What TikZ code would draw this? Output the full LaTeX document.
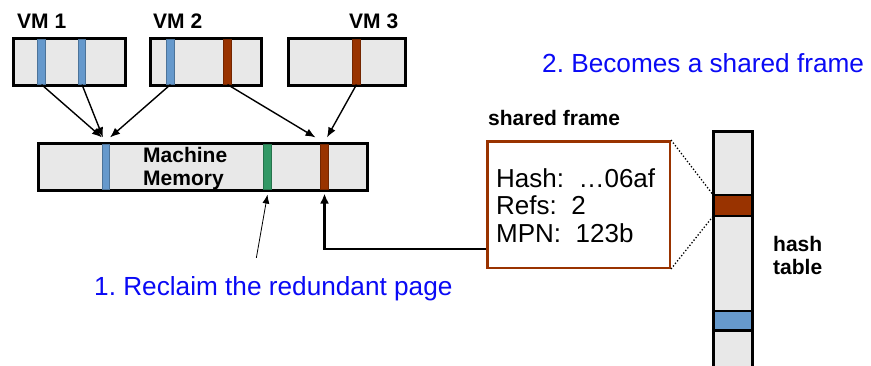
\documentclass[tikz,border=0pt]{standalone}
\usepackage{fontspec}
\setmainfont{Liberation Sans}
\usetikzlibrary{arrows.meta,calc}

\definecolor{pageblue}{HTML}{6699CC}
\definecolor{pagered}{HTML}{993300}
\definecolor{pagegreen}{HTML}{339966}
\definecolor{boxgray}{HTML}{E8E8E8}
\definecolor{noteblue}{HTML}{0A0AF5}

\tikzset{
  membox/.style={draw=black, line width=3pt, fill=boxgray, minimum height=47pt, inner sep=0pt},
  stripe/.style={inner sep=0pt, minimum width=7.5pt, minimum height=44.5pt,
                 draw=#1!75!black, line width=0.6pt, fill=#1},
  boldlbl/.style={font=\fontsize{21}{23}\selectfont\bfseries, inner sep=0pt},
  note/.style={font=\fontsize{26.2}{28}\selectfont, text=noteblue, inner sep=0pt},
  maparrow/.style={-{Latex[length=10pt,width=8pt]}, line width=1.4pt},
  band/.style={draw=black, line width=2.5pt, minimum width=39pt, inner sep=0pt},
}

\begin{document}
\frenchspacing
\begin{tikzpicture}[x=1pt, y=-1pt]
\useasboundingbox (0,0) rectangle (871,365);

% guest memories
\node[membox, minimum width=112pt] (vm1) at (69.5,62) {};
\node[stripe=pageblue] (v1a) at (41.5,62) {};
\node[stripe=pageblue] (v1b) at (82,62) {};
\node[membox, minimum width=111pt] (vm2) at (206,62) {};
\node[stripe=pageblue] (v2a) at (170.5,62) {};
\node[stripe=pagered] (v2b) at (227.5,62) {};
\node[membox, minimum width=117pt] (vm3) at (347,62) {};
\node[stripe=pagered] (v3a) at (356.5,62) {};

\node[boldlbl, anchor=base west] (l1) at (17,28) {VM 1};
\node[boldlbl, anchor=base west] (l2) at (153,28) {VM 2};
\node[boldlbl, anchor=base west] (l3) at (349,28) {VM 3};

% machine memory
\node[membox, minimum width=329pt] (mem) at (203,167) {};
\node[stripe=pageblue] (mA) at (106,167) {};
\node[stripe=pagegreen] (mG) at (267.5,167) {};
\node[stripe=pagered] (mR) at (324.5,167) {};
% base of a multi-line node is the baseline of its last line
\node[boldlbl, anchor=base west, align=left] (memlbl) at (143,185) {Machine\\Memory};

% guest page -> machine page mappings
\draw[maparrow] (v1a.south) -- ($(mA.north)+(-4,-7)$);
\draw[maparrow] (v1b.south) -- ($(mA.north)+(-3,-7)$);
\draw[maparrow] (v2a.south) -- ($(mA.north)+(4,-7)$);
\draw[maparrow] (v2b.south) -- ($(mR.north)+(-9,-7)$);
\draw[maparrow] (v3a.south) -- ($(mR.north)+(2.5,-7)$);

% step 1
\node[note, anchor=base west] (reclaim) at (94,295) {1. Reclaim the redundant page};
\draw[-{Latex[length=9pt,width=7pt]}, line width=0.8pt]
  ([xshift=-17pt, yshift=18pt]reclaim.north) -- ([yshift=-5pt]mG.south);

% shared frame
\node[boldlbl, anchor=base west] (framelbl) at (488,125) {shared frame};
\node[draw=pagered, line width=2.5pt, fill=white, minimum width=182.5pt,
      minimum height=126.5pt, inner sep=0pt] (frame) at (578.5,204.5) {};
\node[font=\fontsize{26}{27.5}\selectfont, align=left, anchor=base west, inner sep=0pt]
  (frametxt) at (496,242) {Hash:\ \ …06af\\Refs:\ \ 2\\MPN:\ \ 123b};
\draw[line width=2.5pt, -{Latex[length=10pt,width=9pt]}]
  ([yshift=-44.5pt]frame.west) -| ([yshift=-4pt]mR.south);

% hash table
\node[fill=boxgray, minimum width=39pt, minimum height=240pt, inner sep=0pt,
      anchor=north] (htable) at (733,131.5) {};
\draw[line width=3pt] (htable.south west) |- (htable.north) -| (htable.south east);
\node[band, fill=pagered, minimum height=21pt] (hred) at (733,205.5) {};
\node[band, fill=pageblue, minimum height=19.5pt] (hblue) at (733,320.5) {};
\node[boldlbl, anchor=base west, align=left] (htlbl) at (773,274) {hash\\table};

\draw[dotted, line width=1.3pt] (frame.north east) -- (hred.north west);
\draw[dotted, line width=1.3pt] (frame.south east) -- (hred.south west);

% step 2
\node[note, anchor=base west] (becomes) at (542,72) {2. Becomes a shared frame};
\end{tikzpicture}
\end{document}
